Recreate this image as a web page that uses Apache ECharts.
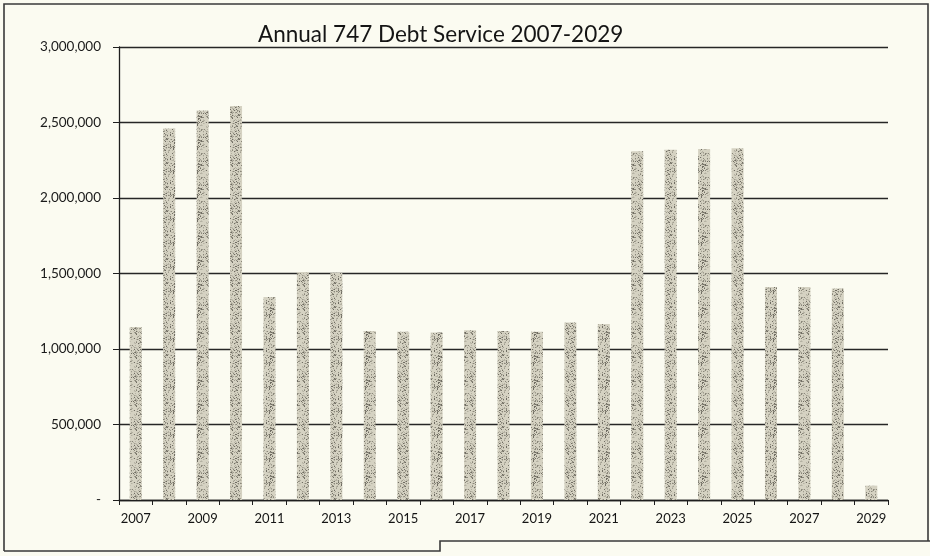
<!DOCTYPE html>
<html>
<head>
<meta charset="utf-8">
<script src="https://cdn.jsdelivr.net/npm/echarts@6/dist/echarts.min.js"></script>
<style>
  html, body { margin: 0; padding: 0; background: #fbfbf1; }
  #chart { width: 930px; height: 556px; }
</style>
</head>
<body>
<div id="chart"></div>
<script>
// Fiscal years covered by the debt schedule
const years = ['2007','2008','2009','2010','2011','2012','2013','2014','2015','2016','2017','2018',
               '2019','2020','2021','2022','2023','2024','2025','2026','2027','2028','2029'];

// Annual debt service payments (dollars)
const debtService = [1145000, 2460000, 2580000, 2610000, 1345000, 1510000, 1505000, 1120000,
                     1115000, 1110000, 1125000, 1120000, 1115000, 1175000, 1165000, 2310000,
                     2320000, 2325000, 2330000, 1410000, 1410000, 1400000, 95000];

// Value axis ticks
const yTicks = [0, 500000, 1000000, 1500000, 2000000, 2500000, 3000000];

// Stippled gray fill for the columns (fixed-seed speckle so it renders identically every time)
function makeStipple() {
  const c = document.createElement('canvas');
  c.width = 24; c.height = 24;
  const g = c.getContext('2d');
  g.fillStyle = '#d5d2c2';
  g.fillRect(0, 0, 24, 24);
  let s = 12345;
  const next = () => { s = (s * 1103515245 + 12345) & 0x7fffffff; return s / 0x7fffffff; };
  const shades = ['#8a877a', '#a19e90', '#b5b2a3', '#6f6c62', '#c4c1b2'];
  for (let i = 0; i < 260; i++) {
    const x = Math.floor(next() * 24), y = Math.floor(next() * 24);
    g.fillStyle = shades[Math.floor(next() * shades.length)];
    g.fillRect(x, y, 1, 1);
  }
  return c;
}

const fmt = v => v === 0 ? '-' : v.toString().replace(/\B(?=(\d{3})+(?!\d))/g, ',');

const chart = echarts.init(document.getElementById('chart'), null, { renderer: 'canvas' });
chart.setOption({
  backgroundColor: '#fbfbf1',
  animation: false,
  title: {
    text: 'Annual 747 Debt Service 2007-2029',
    left: 253,
    top: 18,
    textStyle: { fontFamily: 'Lato', fontSize: 22.5, fontWeight: 'normal', color: '#151515' }
  },
  grid: { left: 119, right: 42, top: 47, bottom: 56 },
  xAxis: {
    type: 'category',
    data: years,
    boundaryGap: true,
    axisLine: { lineStyle: { color: '#1e1e1e', width: 1.3 } },
    axisTick: { show: true, interval: 0, length: 5, lineStyle: { color: '#1e1e1e' } },
    axisLabel: { interval: 1, margin: 12, fontFamily: 'Lato', fontSize: 13, color: '#151515' }
  },
  yAxis: {
    type: 'value',
    min: yTicks[0],
    max: yTicks[yTicks.length - 1],
    interval: yTicks[1] - yTicks[0],
    axisLine: { show: true, lineStyle: { color: '#1e1e1e', width: 1.3 } },
    axisTick: { show: true, length: 6, lineStyle: { color: '#1e1e1e' } },
    splitLine: { show: true, lineStyle: { color: '#262626', width: 1.4 } },
    axisLabel: { margin: 18, fontFamily: 'Lato', fontSize: 13.5, color: '#1a1a1a', formatter: fmt }
  },
  series: [{
    type: 'bar',
    data: debtService,
    barWidth: 12,
    itemStyle: { color: { image: makeStipple(), repeat: 'repeat' } }
  }],
  graphic: [{
    type: 'polyline',
    silent: true,
    shape: { points: [[4, 551], [4, 4], [928, 4], [928, 541]] },
    style: { stroke: '#3a3a3a', lineWidth: 1.6, fill: null }
  }, {
    type: 'polyline',
    silent: true,
    shape: { points: [[4, 551], [440, 551], [440, 541], [930, 541]] },
    style: { stroke: '#3a3a3a', lineWidth: 1.6, fill: null }
  }]
});
</script>
</body>
</html>
